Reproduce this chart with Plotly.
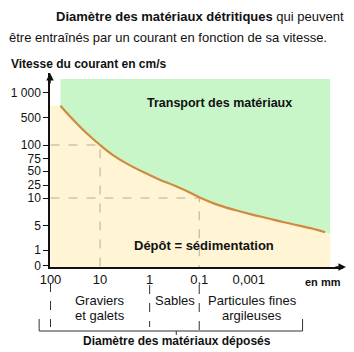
import numpy as np
import plotly.graph_objects as go

# ---------------- data ----------------
y_tick_values = [0, 1, 5, 10, 25, 50, 75, 100, 500, 1000]
y_tick_labels = ["0", "1", "5", "10", "25", "50", "75", "100", "500", "1 000"]
x_tick_labels = ["100", "10", "1", "0,1", "0,001"]
x_tick_index = [0, 1, 2, 3, 4]

# curve: position along the diameter axis (tick index units) and current speed (cm/s)
curve_pos = [0.2, 0.4, 0.73, 1.0, 1.26, 1.53, 1.86, 2.19, 2.52, 2.86, 3.0,
             3.39, 3.72, 4.05, 4.38, 4.71, 5.04, 5.38, 5.54]
curve_speed = [732, 512, 269, 100, 81, 65, 48.5, 35, 23.8, 15, 11,
               8.7, 7.8, 7.0, 6.3, 5.55, 4.9, 4.25, 3.87]

# reference points marked with dashed guides (tick index, speed)
guide_pos = [1, 3]
guide_speed = [100, 10]

# ---------------- scale of the (non-uniform) speed axis ----------------
Y_SCALE_POS = [1.3, 17, 41.7, 69, 82, 96, 108.7, 122, 149.7, 174.7]


def yscale(v):
    return np.interp(v, y_tick_values, Y_SCALE_POS)


W, H = 354, 352
L, R, T, B = 46, 11, 73, 85
PW, PH = W - L - R, H - T - B


def px(x):
    return (x - L) / PW


def py(y):
    return (H - B - y) / PH


FONT = "Liberation Sans, Arial, sans-serif"
GREEN = "#c9f6c9"
CREAM = "#fff4d4"
CURVE = "#cf8a3e"
DASH = "#b5ae98"

cy = yscale(curve_speed)
region_right = 5.64
region_top = 188

fig = go.Figure()

# green (transport) area
fig.add_trace(go.Scatter(
    x=[curve_pos[0], region_right, region_right, curve_pos[0], curve_pos[0]],
    y=[0, 0, region_top, region_top, 0],
    fill="toself", fillcolor=GREEN, mode="none", hoverinfo="skip", showlegend=False))

# cream (deposit) area: left strip, right strip, and area under the curve
fig.add_trace(go.Scatter(
    x=[0, curve_pos[0], curve_pos[0], 0, 0], y=[0, 0, cy[0], cy[0], 0],
    fill="toself", fillcolor=CREAM, mode="none", hoverinfo="skip", showlegend=False))
fig.add_trace(go.Scatter(
    x=[curve_pos[-1], region_right, region_right, curve_pos[-1], curve_pos[-1]],
    y=[0, 0, cy[-1] - 1.5, cy[-1], 0],
    fill="toself", fillcolor=CREAM, mode="none", hoverinfo="skip", showlegend=False))
fig.add_trace(go.Scatter(
    x=curve_pos, y=cy, fill="tozeroy", fillcolor=CREAM, mode="lines",
    line=dict(color="rgba(0,0,0,0)", width=0, shape="spline", smoothing=1.0),
    hoverinfo="skip", showlegend=False))

# dashed guides
for gp, gs in zip(guide_pos, guide_speed):
    hy = float(yscale(gs))
    fig.add_trace(go.Scatter(x=[0, gp, gp], y=[hy, hy, 0], mode="lines",
                             line=dict(color=DASH, width=1, dash="dash"),
                             hoverinfo="skip", showlegend=False))

# curve
fig.add_trace(go.Scatter(x=curve_pos, y=cy, mode="lines",
                         line=dict(color=CURVE, width=2.2, shape="spline", smoothing=1.0),
                         hoverinfo="skip", showlegend=False))

shapes = []
# dashed separators under the x axis
for xi, y0, y1 in [(0, 283, 327), (2, 285, 327), (3, 285, 330)]:
    shapes.append(dict(type="line", xref="x", yref="paper", x0=xi, x1=xi,
                       y0=py(y0), y1=py(y1),
                       line=dict(color="#333", width=1, dash="dash")))
# bracket
bk = dict(color="#333", width=1)
shapes += [
    dict(type="line", xref="paper", yref="paper", x0=px(35), x1=px(302), y0=py(331), y1=py(331), line=bk),
    dict(type="line", xref="paper", yref="paper", x0=px(35), x1=px(35), y0=py(331), y1=py(319), line=bk),
    dict(type="line", xref="paper", yref="paper", x0=px(302), x1=px(302), y0=py(331), y1=py(319), line=bk),
    dict(type="line", xref="paper", yref="paper", x0=px(174), x1=px(174), y0=py(331), y1=py(335), line=bk),
]

ann = []


def text(x, y, t, size=13, anchor="center", bold=False):
    ann.append(dict(xref="paper", yref="paper", x=px(x), y=py(y), text=("<b>%s</b>" % t) if bold else t,
                    showarrow=False, xanchor=anchor, yanchor="middle",
                    font=dict(family=FONT, size=size, color="#111")))


text(50, 17, "<b>Diamètre des matériaux détritiques</b> qui peuvent", size=13, anchor="left")
text(2, 38, "être entraînés par un courant en fonction de sa vitesse.", size=13, anchor="left")
text(4, 64, "Vitesse du courant en cm/s", size=12, anchor="left", bold=True)
text(218, 103, "Transport des matériaux", size=12.5, bold=True)
text(202, 245, "Dépôt = sédimentation", size=13, bold=True)
text(323, 282, "en mm", size=11, bold=True)
text(97, 300, "Graviers", size=13)
text(97, 315, "et galets", size=13)
text(173, 300, "Sables", size=13)
text(251, 300, "Particules fines", size=13)
text(251, 315, "argileuses", size=13)
text(175, 341, "Diamètre des matériaux déposés", size=12, bold=True)

# axis arrowheads
ann.append(dict(xref="paper", yref="paper", x=0, y=1, ax=0, ay=12, text="", showarrow=True,
                arrowhead=2, arrowsize=1, arrowwidth=1.5, arrowcolor="#111"))
ann.append(dict(xref="paper", yref="paper", x=px(346), y=0, ax=-12, ay=0, text="", showarrow=True,
                arrowhead=2, arrowsize=1, arrowwidth=1.5, arrowcolor="#111"))

fig.update_layout(
    width=W, height=H, margin=dict(l=L, r=R, t=T, b=B),
    paper_bgcolor="white", plot_bgcolor="white",
    shapes=shapes, annotations=ann, showlegend=False,
    xaxis=dict(range=[-0.01, 5.9], tickvals=x_tick_index, ticktext=x_tick_labels,
               showline=True, linecolor="#111", linewidth=1.5, showgrid=False, zeroline=False,
               ticks="", tickfont=dict(family=FONT, size=13, color="#111"), fixedrange=True),
    yaxis=dict(range=[0, PH], tickvals=list(yscale(y_tick_values)), ticktext=y_tick_labels,
               showline=True, linecolor="#111", linewidth=1.5, showgrid=False, zeroline=False,
               ticks="outside", ticklen=5, tickwidth=1.2, tickcolor="#111",
               tickfont=dict(family=FONT, size=12, color="#111"), fixedrange=True),
)

fig.write_html("out.html")
